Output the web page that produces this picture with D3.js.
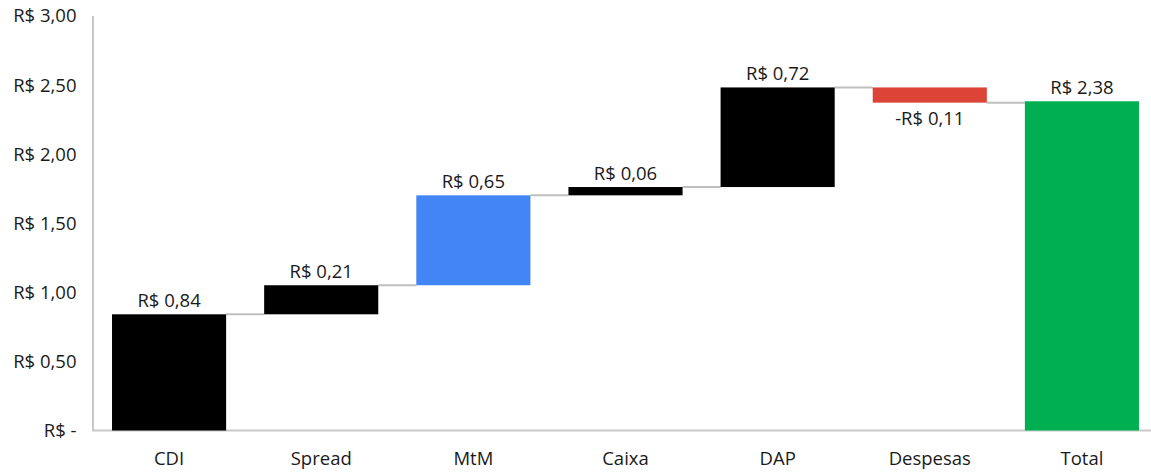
<!DOCTYPE html>
<html>
<head>
<meta charset="utf-8">
<script src="https://cdn.jsdelivr.net/npm/d3@7"></script>
<style>
  html, body { margin: 0; padding: 0; background: #fff; }
  svg { display: block; }
  text { font-family: "Open Sans", "Noto Sans", sans-serif; fill: #1a1a1a; }
</style>
</head>
<body>
<svg id="chart" width="1151" height="474"></svg>
<script>
// Decomposição do resultado (R$ por cota)
const categories = ["CDI", "Spread", "MtM", "Caixa", "DAP", "Despesas", "Total"];
const values = [0.84, 0.21, 0.65, 0.06, 0.72, -0.11, 2.38];
const isTotal = [false, false, false, false, false, false, true];
const barColors = ["#000000", "#000000", "#4285f4", "#000000", "#000000", "#db4437", "#00b050"];
const yTicks = [0, 0.5, 1.0, 1.5, 2.0, 2.5, 3.0];

const svg = d3.select("#chart");
const fontSize = "18.5px";

const x = d3.scaleBand()
  .domain(categories)
  .range([93, 1158])
  .paddingInner(0.25)
  .paddingOuter(0.125);

const y = d3.scaleLinear()
  .domain([0, 3])
  .range([430.5, 15.5]);

const fmt = v => {
  if (v === 0) return "R$ -";
  const s = Math.abs(v).toFixed(2).replace(".", ",");
  return (v < 0 ? "-" : "") + "R$ " + s;
};

// running totals for the floating bars
let run = 0;
const bars = categories.map((c, i) => {
  let start, end;
  if (isTotal[i]) { start = 0; end = values[i]; run = values[i]; }
  else { start = run; end = run + values[i]; run = end; }
  return { cat: c, value: values[i], start, end, color: barColors[i] };
});

// axes
const yAxis = d3.axisLeft(y).tickValues(yTicks).tickSize(0).tickPadding(16).tickFormat(fmt);
const gy = svg.append("g").attr("transform", "translate(92.5,0)").call(yAxis);
gy.select(".domain").attr("stroke", "#c8c8c8").attr("stroke-width", 2);
gy.selectAll("text").style("font-size", fontSize).attr("dy", "0.35em");

const xAxis = d3.axisBottom(x).tickSize(0).tickPadding(21);
const gx = svg.append("g").attr("transform", "translate(0,430.5)").call(xAxis);
gx.select(".domain").attr("stroke", "#c8c8c8").attr("stroke-width", 2).attr("d", "M92,0H1151");
gx.selectAll("text").style("font-size", fontSize);

// connectors between consecutive bars
const conn = bars.slice(0, -1).map((b, i) => ({ x1: x(b.cat) + x.bandwidth(), x2: x(bars[i + 1].cat), level: b.end }));
svg.append("g").selectAll("line").data(conn).join("line")
  .attr("x1", d => d.x1).attr("x2", d => d.x2)
  .attr("y1", d => y(d.level)).attr("y2", d => y(d.level))
  .attr("stroke", "#bfbfbf").attr("stroke-width", 2);

// bars
svg.append("g").selectAll("rect").data(bars).join("rect")
  .attr("x", d => x(d.cat))
  .attr("width", x.bandwidth())
  .attr("y", d => y(Math.max(d.start, d.end)))
  .attr("height", d => Math.abs(y(d.start) - y(d.end)))
  .attr("fill", d => d.color);

// value labels
svg.append("g").selectAll("text").data(bars).join("text")
  .attr("x", d => x(d.cat) + x.bandwidth() / 2)
  .attr("y", d => d.value >= 0 ? y(Math.max(d.start, d.end)) - 7 : y(Math.min(d.start, d.end)) + 22)
  .attr("text-anchor", "middle")
  .style("font-size", fontSize)
  .text(d => fmt(d.value));
</script>
</body>
</html>
